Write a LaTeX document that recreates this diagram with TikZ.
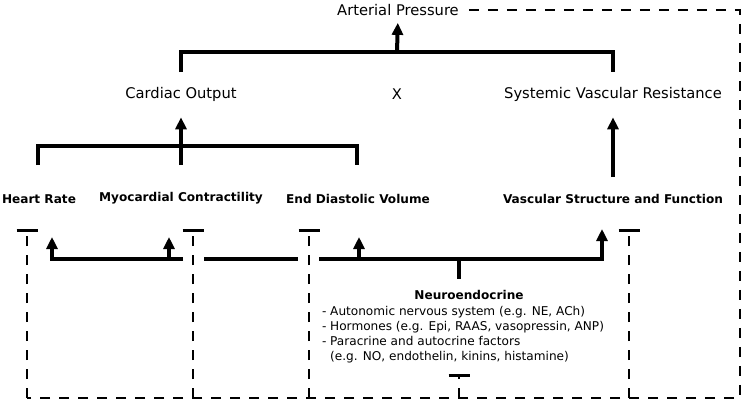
\documentclass[tikz,border=0pt]{standalone}
\usepackage{fontspec}
\setmainfont{DejaVu Sans}
\usepackage{tikz}
\usetikzlibrary{arrows.meta,positioning}
\tikzstyle{lbl} = [inner sep=0pt, text=black, font=\fontsize{14.7}{17}\selectfont]
\tikzstyle{blbl} = [inner sep=0pt, text=black, font=\bfseries\fontsize{12.1}{14}\selectfont]
\tikzstyle{nelist} = [inner sep=0pt, text=black, align=left, font=\fontsize{12.1}{15}\selectfont]
\tikzstyle{bracket} = [draw, line width=4pt]
\tikzstyle{tedge} = [bracket, -{Triangle[width=11pt,length=12pt]}]
\tikzstyle{fback} = [draw, line width=2pt, dash pattern=on 10pt off 9pt]
\tikzstyle{inhib} = [fback, -{Bar[width=21pt,line width=2.5pt]}]

\begin{document}
\begin{tikzpicture}[x=1pt, y=-1pt]
\useasboundingbox (0,0) rectangle (744,402);

% labels =============================

% pressure and its factors
\node[lbl] (ap) at (398,10) {Arterial Pressure};
\node[lbl] (co) at (181,94) {Cardiac Output};
\node[lbl] (times) at (397,94) {X};
\node[lbl] (svr) at (613,94) {Systemic Vascular Resistance};

% determinants
\node[blbl] (hr) at (39,199) {Heart Rate};
\node[blbl] (mc) at (181,198) {Myocardial Contractility};
\node[blbl] (edv) at (358,199) {End Diastolic Volume};
\node[blbl] (vsf) at (613,199) {Vascular Structure and Function};

% neuroendocrine
\node[blbl] (ne) at (469,295) {Neuroendocrine};
\node[nelist, below=6pt of ne, xshift=-6pt] (nelist) {- Autonomic nervous system (e.g. NE, ACh)\\
- Hormones (e.g. Epi, RAAS, vasopressin, ANP)\\
- Paracrine and autocrine factors\\
\hphantom{- }(e.g. NO, endothelin, kinins, histamine)};

% joints
\coordinate (apjoin) at (397,52);
\coordinate (cofoot) at (181,72);
\coordinate (svrfoot) at (613,72);
\coordinate (cojoin) at (181,146);
\coordinate (hrfoot) at (38,165);
\coordinate (mcfoot) at (181,165);
\coordinate (edvfoot) at (357,165);
\coordinate (vsftop) at (613,177);

\coordinate (hrin) at (52,237);
\coordinate (mcin) at (169,237);
\coordinate (edvin) at (359,237);
\coordinate (vsfin) at (602,229);
\coordinate (seg1) at (183,259);
\coordinate (seg2l) at (204,259);
\coordinate (seg2r) at (298,259);
\coordinate (seg3l) at (319,259);
\coordinate (nejoin) at (459,259);
\coordinate (nestem) at (459,279);

% feedback
\coordinate (fbtr) at (740,10);
\coordinate (fbbr) at (740,398);
\coordinate (fbbl) at (27,398);
\coordinate (hrbar) at (27,229);
\coordinate (mcbar) at (193,229);
\coordinate (edvbar) at (309,229);
\coordinate (vsfbar) at (629,229);
\coordinate (nebar) at (459,374);

%edges
\path[bracket] (cofoot) |- (apjoin) -| (svrfoot);
\path[tedge, shorten >=7pt] (apjoin) -- (ap.south);
\path[bracket] (hrfoot) |- (cojoin) -| (edvfoot);
\path[tedge, shorten >=16pt] (mcfoot) -- (co.south);
\path[tedge, shorten >=16pt] (vsftop) -- (svr.south);

\path[tedge] (seg1) -| (hrin);
\path[tedge] (mcin |- seg1) -- (mcin);
\path[bracket] (seg2l) -- (seg2r);
\path[tedge] (seg3l) -| (vsfin);
\path[tedge] (edvin |- seg3l) -- (edvin);
\path[bracket] (nejoin) -- (nestem);

\path[fback, shorten <=10pt] (ap.east) -- (fbtr) -- (fbbr) -- (fbbl);
\path[inhib] (fbbl) -- (hrbar);
\path[inhib] (mcbar |- fbbl) -- (mcbar);
\path[inhib] (edvbar |- fbbl) -- (edvbar);
\path[inhib] (vsfbar |- fbbl) -- (vsfbar);
\path[inhib] (nebar |- fbbl) -- (nebar);

\end{tikzpicture}
\end{document}
